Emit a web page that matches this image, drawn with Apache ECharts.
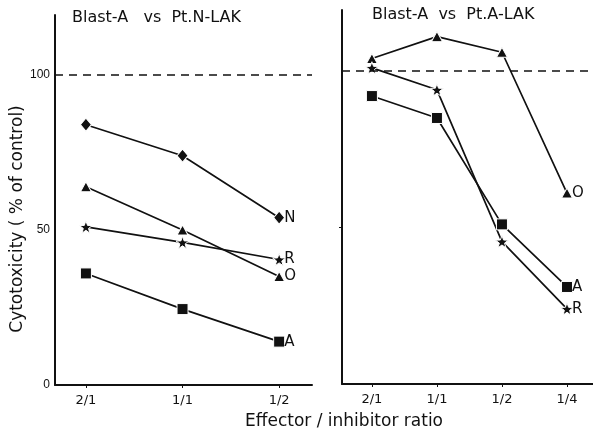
<!DOCTYPE html>
<html>
<head>
<meta charset="utf-8">
<script src="https://cdn.jsdelivr.net/npm/echarts@6/dist/echarts.min.js"></script>
<style>
html,body{margin:0;padding:0;background:#fff;}
#chart{width:593px;height:431px;}
</style>
</head>
<body>
<div id="chart"></div>
<script>
// ---- data ----
const leftTitle = 'Blast-A   vs  Pt.N-LAK';
const rightTitle = 'Blast-A  vs  Pt.A-LAK';
const leftCategories = ['2/1', '1/1', '1/2'];
const rightCategories = ['2/1', '1/1', '1/2', '1/4'];
const yTickValues = [0, 50, 100];
const controlLevel = 100;

// Left panel: Blast-A vs Pt.N-LAK
const leftN = [84, 74, 54];
const leftO = [64, 50, 35];
const leftR = [51, 46, 40.5];
const leftA = [36, 24.5, 14];

// Right panel: Blast-A vs Pt.A-LAK
const rightO = [104, 111, 106, 61];
const rightR = [101, 94, 45.5, 24];
const rightA = [92, 85, 51, 31];

const yAxisName = 'Cytotoxicity ( % of control)';
const xAxisName = 'Effector / inhibitor ratio';

// ---- rendering ----
const FONT = 'DejaVu Sans, sans-serif';
const TICKFONT = 'Liberation Sans, Arial, sans-serif';
const INK = '#111';
const STAR = 'path://M0,-10L2.35,-3.24L9.51,-3.09L3.8,1.24L5.88,8.09L0,4L-5.88,8.09L-3.8,1.24L-9.51,-3.09L-2.35,-3.24Z';
const SYMBOLS = {N: 'diamond', O: 'triangle', R: STAR, A: 'rect'};
const SIZES = {N: [11, 13], O: [11, 10], R: 13, A: 11};

function toPoints(values) { return values.map((v, i) => [i, v]); }

function makeSeries(tag, values, gridIdx) {
  return {
    type: 'line',
    name: tag,
    xAxisIndex: gridIdx,
    yAxisIndex: gridIdx,
    data: toPoints(values),
    symbol: SYMBOLS[tag],
    symbolSize: SIZES[tag],
    symbolKeepAspect: true,
    showAllSymbol: true,
    lineStyle: {color: INK, width: 1.7},
    itemStyle: {color: INK, borderColor: '#fff', borderWidth: 1},
    emphasis: {disabled: true},
    animation: false,
    endLabel: {
      show: true, formatter: () => tag, distance: 5,
      fontFamily: FONT, fontSize: 15, color: INK
    },
    z: 3
  };
}

function xAxis(gridIdx, cats, min, max) {
  return {
    type: 'value', gridIndex: gridIdx, min: min, max: max,
    axisLine: {show: true, lineStyle: {color: INK, width: 2}},
    splitLine: {show: false},
    axisTick: {show: true, customValues: cats.map((c, i) => i), length: 3, lineStyle: {color: INK, width: 1}},
    axisLabel: {
      customValues: cats.map((c, i) => i),
      formatter: v => cats[Math.round(v)],
      fontFamily: FONT, fontSize: 13, color: INK, margin: 9
    }
  };
}

function yAxis(gridIdx, showLabels, max) {
  return {
    type: 'value', gridIndex: gridIdx, min: 0, max: max,
    axisLine: {show: true, onZero: false, lineStyle: {color: INK, width: 2}},
    splitLine: {show: false},
    axisTick: {show: !showLabels, customValues: [50], length: 3, inside: false, lineStyle: {color: INK}},
    axisLabel: {
      show: showLabels,
      customValues: yTickValues,
      fontFamily: TICKFONT, fontSize: 12, color: INK, margin: 5
    }
  };
}

function refLine(gridIdx) {
  return {
    type: 'line', xAxisIndex: gridIdx, yAxisIndex: gridIdx, data: [],
    silent: true, animation: false,
    markLine: {
      silent: true, symbol: 'none', animation: false,
      label: {show: false},
      lineStyle: {color: INK, type: [8, 6], width: 1.5},
      data: [{yAxis: controlLevel}]
    }
  };
}

const chart = echarts.init(document.getElementById('chart'), null, {renderer: 'canvas'});
chart.setOption({
  backgroundColor: '#fff',
  animation: false,
  title: [
    {text: leftTitle, left: 72, top: 10, padding: 0, textStyle: {fontFamily: FONT, fontSize: 16, fontWeight: 'normal', color: INK}},
    {text: rightTitle, left: 372, top: 7, padding: 0, textStyle: {fontFamily: FONT, fontSize: 16, fontWeight: 'normal', color: INK}}
  ],
  grid: [
    {left: 55, top: 15, width: 257, height: 370},
    {left: 342, top: 10, width: 251, height: 374}
  ],
  xAxis: [
    xAxis(0, leftCategories, -0.32, 2.34),
    xAxis(1, rightCategories, -0.46, 3.4)
  ],
  yAxis: [
    yAxis(0, true, 119.4),
    yAxis(1, false, 119.5)
  ],
  graphic: [
    {type: 'text', x: 18, y: 219, rotation: Math.PI / 2,
     style: {text: yAxisName, fontFamily: FONT, fontSize: 17, fill: INK, align: 'center', verticalAlign: 'middle'}},
    {type: 'text', x: 344, y: 422,
     style: {text: xAxisName, fontFamily: FONT, fontSize: 17, fill: INK, align: 'center', verticalAlign: 'middle'}}
  ],
  series: [
    refLine(0), refLine(1),
    makeSeries('N', leftN, 0),
    makeSeries('O', leftO, 0),
    makeSeries('R', leftR, 0),
    makeSeries('A', leftA, 0),
    makeSeries('O', rightO, 1),
    makeSeries('A', rightA, 1),
    makeSeries('R', rightR, 1)
  ]
});
</script>
</body>
</html>
